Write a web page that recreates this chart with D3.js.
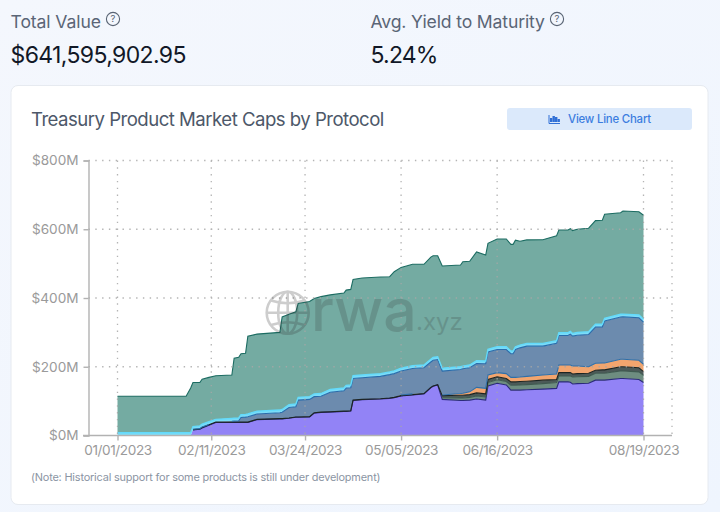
<!DOCTYPE html>
<html>
<head>
<meta charset="utf-8">
<script src="https://cdn.jsdelivr.net/npm/d3@7"></script>
<style>
  html, body { margin: 0; padding: 0; background: #f2f6fd; }
  svg { display: block; font-family: Inter, "Noto Sans", sans-serif; }
  .axis path, .axis line { stroke: #b2b2b2; stroke-width: 1.4; }
  .axis text { fill: #9a9a9a; font-size: 13.6px; font-family: Inter, sans-serif; }
  .xaxis text { letter-spacing: -0.4px; }
</style>
</head>
<body>
<div id="chart"></div>
<script>
// Data (days since 01/01/2023, values in $M)
var startDate = new Date(2023, 0, 1);
var days = [0,30,32,33,36,37,40,43,50,51,53,54,56,57,61,71,72,75,78,79,84,86,89,93,99,100,102,103,107,115,119,121,124,129,134,137,138,140,142,150,151,154,157,161,162,166,170,172,173,174,176,179,186,192,193,197,198,199,201,206,209,212,213,220,221,228,230];
var purple = [0,0,0,16,18,22,30,38,38,38,38,38,38,38,46,48,48,50,53,53,54,65,67,68,70,70,71,102,104,106,108,110,115,118,121,139,143,147,105,102,102,103,106,103,144,152,147,132,132,132,132,133,135,137,156,156,155,150,151,152,161,161,161,166,166,163,154];
var gray = [0,0,0,0,0,0,0,0,0,0,0,0,0,0,0,0,0,0,0,0,0,0,0,0,0,0,0,0,0,0,0,0,0,0,0,0,0,0,5,7,7,8,9,9,10,10,10,14,14,14,15,15,16,17,17,17,18,20,20,20,20,20,20,22,22,22,21];
var dark = [0,0,0,1,1,1,1,1,1,1,1,1,1,1,1,1,1,1,1,1,1,1,1,1,1,1,1,1,1,1,1,1,1,1,1,1,1,1,6,8,8,8,9,9,9,9,9,10,10,10,10,10,10,9,10,10,10,9,9,9,9,10,10,12,12,12,11];
var orange = [0,0,0,0,0,0,0,0,0,0,0,0,0,0,0,0,0,0,0,0,0,0,0,0,0,0,0,0,0,0,0,0,2,2,0,0,0,0,2,5,6,8,16,16,13,12,14,13,13,13,13,14,15,16,22,22,22,23,22,19,20,20,20,22,22,22,21];
var slate = [0,0,0,1,1,2,1,0,2.5,3,4,13.5,14.5,15.5,15.4,17,18.6,30.6,29.6,49,50,47,46,57,59,67,67,63,63,65,68,69,69.5,74,75,73.7,75,73,69.5,70,71,70,69.6,71.7,67,67,70,69,69,81,85,88,84,89,86,86,90,87,89.6,94,105.5,104.5,122,122.6,123,123.5,123];
var cyan = [8,8,8,8,8,8,8,8,8,8,8,8,8,8,8,8,8,8,8,8,8,8,8,8,8,8,8,8,8,8,8,8,8,8,8,8,8,8,8,8,8,8,8,8,8,8,8,8,8,8,8,8,8,8,8,8,8,8,8,8,8,8,8,8,8,8,8];
var teal = [106,106,130,128,126,130.5,129,127,126.5,175,176.5,177.5,177.5,226.5,224.6,226,269.4,263,268.4,273,277,277.5,282,275,276.5,277,278,280,282,281,277,288.5,293.5,295,293,297.3,296,294,297.5,296,303.6,302,316.4,308.3,308,313.6,313.6,310,310,310,302,301,301.6,305,299,299,298.6,299,300.4,301,301.5,302.5,302.5,295.4,300,300.5,302.6];

var seriesNames = ["purple","gray","dark","orange","slate","cyan","teal"];
var seriesValues = [purple, gray, dark, orange, slate, cyan, teal];
var fills = ["#9283f6","#6e8d80","#4c5a58","#f2a56e","#6c8bae","#7cdcf7","#74aba2"];
var strokes = ["#2b2a7a","#3f5a50","#1c2422","#2f6fa8","#2a6cab","#62dafb","#1c6c62"];

var yTicks = [0, 200, 400, 600, 800];
var xTickDays = [0, 41, 82, 124, 166, 230];

var svgW = 720, svgH = 512;
var margin = { top: 160.5, left: 88.5, bottom: 435.5 };

var svg = d3.select("#chart").append("svg")
  .attr("width", svgW)
  .attr("height", svgH);

// Page background
var defs = svg.append("defs");
var bg = defs.append("linearGradient").attr("id", "bg").attr("x1", 0).attr("y1", 0).attr("x2", 1).attr("y2", 1);
bg.append("stop").attr("offset", "0%").attr("stop-color", "#f4f7fd");
bg.append("stop").attr("offset", "100%").attr("stop-color", "#eff5fe");
svg.append("rect").attr("width", svgW).attr("height", svgH).attr("fill", "url(#bg)");

// Headline figures
function helpIcon(cx, cy) {
  var g = svg.append("g");
  g.append("circle").attr("cx", cx).attr("cy", cy).attr("r", 6.6)
    .attr("fill", "none").attr("stroke", "#596474").attr("stroke-width", 1.1);
  g.append("text").attr("x", cx).attr("y", cy + 3.4).attr("text-anchor", "middle")
    .attr("font-size", 9.5).attr("fill", "#596474").text("?");
}
svg.append("text").attr("x", 10.5).attr("y", 28).attr("font-size", 17.6).attr("letter-spacing", -0.1).attr("fill", "#5a6576").text("Total Value");
helpIcon(113, 19);
svg.append("text").attr("x", 10.5).attr("y", 63).attr("font-size", 23).attr("letter-spacing", -0.62).attr("fill", "#111827").text("$641,595,902.95");
svg.append("text").attr("x", 370.5).attr("y", 28).attr("font-size", 17.6).attr("letter-spacing", -0.14).attr("fill", "#5a6576").text("Avg. Yield to Maturity");
helpIcon(557, 19);
svg.append("text").attr("x", 370.5).attr("y", 63).attr("font-size", 23).attr("letter-spacing", -0.8).attr("fill", "#111827").text("5.24%");

// Card
svg.append("rect").attr("x", 11).attr("y", 85.5).attr("width", 697).attr("height", 419).attr("rx", 7)
  .attr("fill", "#ffffff").attr("stroke", "#e6eaf0");
svg.append("text").attr("x", 31).attr("y", 126).attr("font-size", 18.6).attr("letter-spacing", -0.52).attr("fill", "#4d5869")
  .text("Treasury Product Market Caps by Protocol");

// Button
svg.append("rect").attr("x", 507).attr("y", 108).attr("width", 185).attr("height", 22).attr("rx", 3).attr("fill", "#dbe9fb");
var btnBars = [[550, 4], [552.5, 6], [555, 5], [557.5, 3]];
svg.selectAll(".btnbar").data(btnBars).enter().append("rect").attr("class", "btnbar")
  .attr("x", d => d[0]).attr("y", d => 122 - d[1]).attr("width", 2.4).attr("height", d => d[1]).attr("fill", "#2f6fd6");
svg.append("path").attr("d", "M549 115V123.5H560").attr("fill", "none").attr("stroke", "#2f6fd6").attr("stroke-width", 1);
svg.append("text").attr("x", 568).attr("y", 123).attr("font-size", 11.4).attr("font-weight", 500).attr("letter-spacing", -0.2).attr("fill", "#3b7de0").text("View Line Chart");

// Scales
var dates = days.map(d => d3.timeDay.offset(startDate, d));
var xScale = d3.scaleTime()
  .domain([startDate, d3.timeDay.offset(startDate, 230)])
  .range([117.5, 643.5]);
var yScale = d3.scaleLinear()
  .domain([0, 800])
  .range([margin.bottom, margin.top]);

// Stacked areas
var rows = days.map(function (d, i) {
  var row = { date: dates[i] };
  seriesNames.forEach(function (name, s) { row[name] = seriesValues[s][i]; });
  return row;
});
var stacked = d3.stack().keys(seriesNames)(rows);

var area = d3.area()
  .x(d => xScale(d.data.date))
  .y0(d => yScale(d[0]))
  .y1(d => yScale(d[1]));
// no edge where a layer has no value yet
var topLine = d3.line()
  .defined(d => d[1] > d[0])
  .x(d => xScale(d.data.date))
  .y(d => yScale(d[1]));

var layers = svg.append("g");
layers.selectAll(".layer").data(stacked).enter().append("path")
  .attr("class", "layer")
  .attr("d", area)
  .attr("fill", (d, i) => fills[i]);
layers.selectAll(".edge").data(stacked).enter().append("path")
  .attr("class", "edge")
  .attr("d", topLine)
  .attr("fill", "none")
  .attr("stroke", (d, i) => strokes[i])
  .attr("stroke-width", (d, i) => i == 5 ? 1.4 : 1.1);

// Grid
var grid = svg.append("g").attr("stroke", "#a8a8a8").attr("stroke-width", 1.3).attr("stroke-dasharray", "1.4 5.4").attr("opacity", 0.85);
grid.selectAll(".gy").data(yTicks.slice(1)).enter().append("line")
  .attr("x1", margin.left).attr("x2", 672)
  .attr("y1", d => yScale(d)).attr("y2", d => yScale(d));
grid.selectAll(".gx").data(xTickDays).enter().append("line")
  .attr("x1", d => xScale(d3.timeDay.offset(startDate, d))).attr("x2", d => xScale(d3.timeDay.offset(startDate, d)))
  .attr("y1", margin.top).attr("y2", margin.bottom);
grid.append("line").attr("x1", 672).attr("x2", 672).attr("y1", margin.top).attr("y2", margin.bottom);

// Watermark
var mark = svg.append("g").attr("opacity", 0.24).attr("fill", "none").attr("stroke", "#333").attr("stroke-width", 2.6);
mark.append("circle").attr("cx", 287.7).attr("cy", 312.7).attr("r", 21);
mark.append("ellipse").attr("cx", 287.7).attr("cy", 312.7).attr("rx", 9.5).attr("ry", 21);
mark.append("line").attr("x1", 287.7).attr("x2", 287.7).attr("y1", 291.7).attr("y2", 333.7);
mark.append("line").attr("x1", 267).attr("x2", 308.5).attr("y1", 312.7).attr("y2", 312.7);
mark.append("path").attr("d", "M271 300.5Q287.7 306 304.5 300.5M271 325Q287.7 319.5 304.5 325");
svg.append("text").attr("x", 311).attr("y", 331).attr("font-size", 59).attr("font-weight", 500)
  .attr("fill", "#333").attr("opacity", 0.2).text("rwa");
svg.append("text").attr("x", 416).attr("y", 330).attr("font-size", 24)
  .attr("fill", "#333").attr("opacity", 0.2).text(".xyz");

// Axes
var yAxis = d3.axisLeft(yScale)
  .tickValues(yTicks)
  .tickFormat(d => "$" + d + "M")
  .tickSize(5)
  .tickPadding(5);
var xAxis = d3.axisBottom(xScale)
  .tickValues(xTickDays.map(d => d3.timeDay.offset(startDate, d)))
  .tickFormat(d3.timeFormat("%m/%d/%Y"))
  .tickSize(5)
  .tickPadding(5);

svg.append("g").attr("class", "axis")
  .attr("transform", "translate(" + margin.left + ",0)")
  .call(yAxis);
var xG = svg.append("g").attr("class", "axis xaxis")
  .attr("transform", "translate(0," + margin.bottom + ")")
  .call(xAxis);
xG.select(".domain").remove();
svg.append("line").attr("x1", 83).attr("x2", 672).attr("y1", margin.bottom).attr("y2", margin.bottom)
  .attr("stroke", "#b2b2b2").attr("stroke-width", 1.4);

// Footnote
svg.append("text").attr("x", 31).attr("y", 481).attr("font-size", 10.9).attr("letter-spacing", -0.18).attr("fill", "#8b95a3")
  .text("(Note: Historical support for some products is still under development)");
</script>
</body>
</html>
